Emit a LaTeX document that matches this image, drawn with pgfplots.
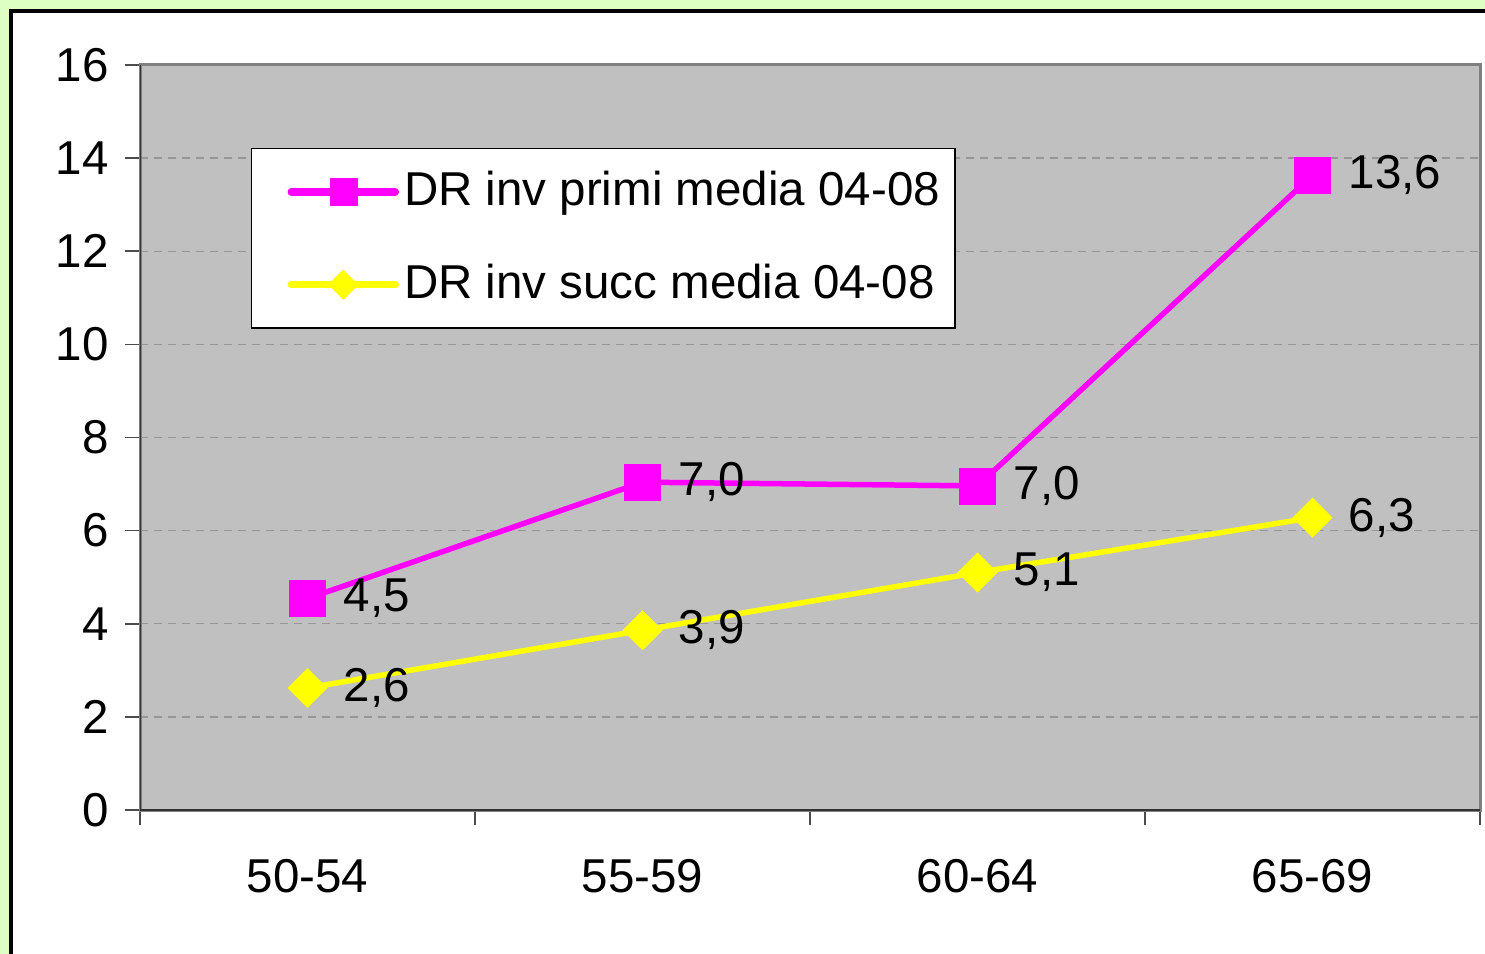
\documentclass[border=0pt]{standalone}
\usepackage{pgfplots}
\pgfplotsset{compat=1.18}
\usepackage{fontspec}
\setmainfont{Liberation Sans}
\definecolor{bggreen}{RGB}{222,255,196}
\definecolor{plotgray}{RGB}{192,192,192}
\definecolor{bordergray}{RGB}{128,128,128}
\definecolor{gridgray}{RGB}{150,150,150}
\definecolor{mymag}{RGB}{255,0,255}
\definecolor{myyel}{RGB}{255,255,0}
\pgfplotsset{legend image code/.code={\path (0pt,0pt); \draw[#1, line width=3pt, every mark/.append style={scale=0.75}, mark repeat=2, mark phase=2] plot coordinates {(10.8pt,0pt) (31.6pt,0pt) (52.4pt,0pt)};}}
\begin{document}
\fontsize{19}{23}\selectfont
\begin{tikzpicture}
\useasboundingbox (0pt,0pt) rectangle (594pt,-381.6pt);
\fill[bggreen] (0pt,0pt) rectangle (594pt,-381.6pt);
\fill[white] (4.4pt,-4.4pt) rectangle (600pt,-390pt);
\draw[black,line width=1.4pt] (600pt,-4.4pt) -- (4.4pt,-4.4pt) -- (4.4pt,-390pt);
\begin{axis}[
  at={(56pt,-324pt)}, anchor=south west,
  scale only axis, width=536pt, height=298pt,
  xmin=-0.5, xmax=3.5, ymin=0, ymax=16,
  axis background/.style={fill=plotgray},
  axis line style={draw=bordergray, line width=1.2pt},
  tick align=outside, tick pos=left,
  major tick length=6pt,
  tick style={black!70, line width=0.6pt},
  ytick={0,2,...,16},
  xtick={-0.5,0.5,1.5,2.5,3.5},
  xticklabels={},
  extra x ticks={0,1,2,3},
  extra x tick labels={50-54,55-59,60-64,65-69},
  extra x tick style={major tick length=0pt, xticklabel style={yshift=-13pt}},
  ymajorgrids,
  major grid style={gridgray, dash pattern=on 3.2pt off 2.4pt, line width=0.5pt},
  /pgf/number format/assume math mode=true,
  ticklabel style={font=\fontsize{19}{23}\selectfont},
  yticklabel style={xshift=0pt},
  legend style={at={(0.0828,0.8886)}, anchor=north west, draw=black, line width=0.5pt, fill=white,
     font=\fontsize{19}{23}\selectfont, inner xsep=4pt, inner ysep=6pt, row sep=14.5pt,
     nodes={inner xsep=2pt, inner ysep=3pt},
     /tikz/every even column/.append style={column sep=0pt}},
  legend cell align=left,
  nodes near coords={\pgfmathprintnumber[fixed,fixed zerofill,precision=1,use comma]{\pgfplotspointmeta}},
  every node near coord/.append style={anchor=west, xshift=14.5pt, yshift=0pt, inner sep=0pt, black, font=\fontsize{19}{23}\selectfont},
]
\addplot[mymag, line width=2.2pt, line cap=round, mark=square*, mark size=7.2pt, mark options={fill=mymag, draw=mymag, line width=0.1pt}]
  coordinates {(0,4.54) (1,7.04) (2,6.96) (3,13.63)};
\addlegendentry{DR inv primi media 04-08}
\addplot[myyel, line width=2.2pt, line cap=round, mark=square*, mark size=5.6pt, mark options={fill=myyel, draw=myyel, line width=0.1pt, rotate=45}]
  coordinates {(0,2.62) (1,3.86) (2,5.1) (3,6.28)};
\addlegendentry{DR inv succ media 04-08}
\draw[black!80, line width=0.8pt] (rel axis cs:0,1) -- (rel axis cs:0,0) -- (rel axis cs:1,0);
\end{axis}
\end{tikzpicture}
\end{document}
